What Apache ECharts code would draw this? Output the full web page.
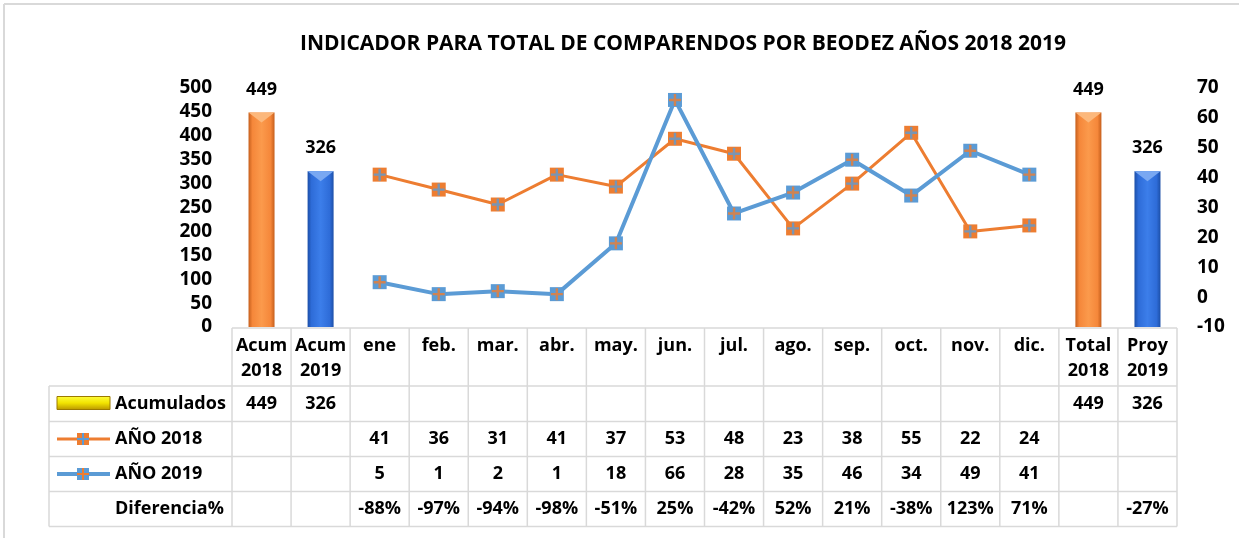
<!DOCTYPE html>
<html><head><meta charset="utf-8">
<script src="https://cdn.jsdelivr.net/npm/echarts@6/dist/echarts.min.js"></script>
<style>html,body{margin:0;padding:0;background:#fff}#c{width:1239px;height:538px}</style>
</head><body><div id="c"></div>
<script>
const titleText = 'INDICADOR PARA TOTAL DE COMPARENDOS POR BEODEZ AÑOS 2018 2019';
const categories = ['Acum\n2018','Acum\n2019','ene','feb.','mar.','abr.','may.','jun.','jul.','ago.','sep.','oct.','nov.','dic.','Total\n2018','Proy\n2019'];
const acumulados = [449,326,null,null,null,null,null,null,null,null,null,null,null,null,449,326];
const ano2018 = [null,null,41,36,31,41,37,53,48,23,38,55,22,24,null,null];
const ano2019 = [null,null,5,1,2,1,18,66,28,35,46,34,49,41,null,null];
const diferencia = ['','','-88%','-97%','-94%','-98%','-51%','25%','-42%','52%','21%','-38%','123%','71%','','-27%'];
const rowLabels = ['Acumulados','AÑO 2018','AÑO 2019','Diferencia%'];
const leftAxis = {min:0, max:500, interval:50};
const rightAxis = {min:-10, max:70, interval:10};

const FONT = 'Open Sans';
const FS = 18;
const ORANGE = '#ED7D31', BLUE = '#5B9BD5';
const barYear = [0,1,null,null,null,null,null,null,null,null,null,null,null,null,0,1];
const barGrad = [
  new echarts.graphic.LinearGradient(0,0,1,0,[{offset:0,color:'#C65F1C'},{offset:0.15,color:'#F5873A'},{offset:0.5,color:'#FB9A4C'},{offset:0.85,color:'#F5873A'},{offset:1,color:'#C65F1C'}]),
  new echarts.graphic.LinearGradient(0,0,1,0,[{offset:0,color:'#1C4FA8'},{offset:0.15,color:'#2E6CD8'},{offset:0.5,color:'#3C7EEA'},{offset:0.85,color:'#2E6CD8'},{offset:1,color:'#1C4FA8'}])
];
const barTop = ['#FCB87C','#79A8F2'];
const PLUS = 'path://M4,0H6V4H10V6H6V10H4V6H0V4H4Z';

const chart = echarts.init(document.getElementById('c'), null, {renderer:'canvas'});
const txt = {fontFamily:FONT, fontWeight:'bold', color:'#000'};

function barData(){
  return acumulados.map((v,i)=> v==null ? null : {value:v, itemStyle:{color:barGrad[barYear[i]]}});
}
function barTopData(){
  return acumulados.map((v,i)=> v==null ? null : {value:v, itemStyle:{color:barTop[barYear[i]]}});
}

chart.setOption({
  animation:false,
  title:{text:titleText, left:678, top:29, textAlign:'center',
    textStyle:{fontFamily:FONT, fontWeight:'bold', fontSize:21, color:'#000'}},
  grid:{left:232, right:62, top:88, bottom:211},
  xAxis:{type:'category', data:categories, axisLine:{show:false}, axisTick:{show:false},
    axisLabel:Object.assign({fontSize:FS, lineHeight:25, margin:6, interval:0}, txt)},
  yAxis:[
    Object.assign({type:'value', position:'left', splitLine:{show:false}, axisLine:{show:false}, axisTick:{show:false},
      axisLabel:Object.assign({fontSize:19, margin:20}, txt)}, leftAxis),
    Object.assign({type:'value', position:'right', splitLine:{show:false}, axisLine:{show:false}, axisTick:{show:false},
      axisLabel:Object.assign({fontSize:19, margin:20, align:'left'}, txt)}, rightAxis)
  ],
  series:[
    {name:'Acumulados', type:'bar', yAxisIndex:0, barWidth:26, barGap:'-100%', data:barData(),
      label:Object.assign({show:true, position:'top', distance:14, fontSize:FS}, txt)},
    {name:'AcumTop', type:'pictorialBar', yAxisIndex:0, symbol:'path://M0,0L26,0L13,9Z', symbolSize:[26,10],
      symbolPosition:'end', symbolOffset:[0,0], data:barTopData(), z:3},
    {name:'AÑO 2018', type:'line', yAxisIndex:1, data:ano2018, lineStyle:{color:ORANGE, width:3},
      itemStyle:{color:ORANGE}, symbol:'rect', symbolSize:14, showAllSymbol:true, z:4},
    {name:'AÑO 2018 +', type:'scatter', yAxisIndex:1, data:ano2018, symbol:PLUS, symbolSize:12,
      itemStyle:{color:BLUE}, z:5},
    {name:'AÑO 2019', type:'line', yAxisIndex:1, data:ano2019, lineStyle:{color:BLUE, width:4},
      itemStyle:{color:BLUE}, symbol:'rect', symbolSize:14, showAllSymbol:true, z:6},
    {name:'AÑO 2019 +', type:'scatter', yAxisIndex:1, data:ano2019, symbol:PLUS, symbolSize:12,
      itemStyle:{color:ORANGE}, z:7}
  ]
});

// data table drawn from the arrays, positioned by the category axis
const c0 = chart.convertToPixel({xAxisIndex:0}, 0);
const c1 = chart.convertToPixel({xAxisIndex:0}, 1);
const colW = c1 - c0;
const x0 = c0 - colW/2;
const xEnd = x0 + colW*categories.length;
const axisY = chart.convertToPixel({yAxisIndex:0}, 0);
const headTop = axisY + 1;
const rowTop = [386, 421.5, 456.5, 491.5];
const rowH = 35;
const tableBottom = rowTop[3] + rowH;
const tableLeft = 49;
const LINE = '#D9D9D9';
const els = [];
function hline(x1,x2,y){els.push({type:'line', shape:{x1,y1:y,x2,y2:y}, style:{stroke:LINE, lineWidth:1.5}, silent:true});}
function vline(x,y1,y2){els.push({type:'line', shape:{x1:x,y1,x2:x,y2}, style:{stroke:LINE, lineWidth:1.5}, silent:true});}
hline(x0, xEnd, headTop);
rowTop.forEach(y=>hline(tableLeft, xEnd, y));
hline(tableLeft, xEnd, tableBottom);
vline(tableLeft, rowTop[0], tableBottom);
for(let k=0;k<=categories.length;k++) vline(x0+k*colW, headTop, tableBottom);

const rows = [
  acumulados.map(v=> v==null?'':String(v)),
  ano2018.map(v=> v==null?'':String(v)),
  ano2019.map(v=> v==null?'':String(v)),
  diferencia
];
rows.forEach((r,ri)=>{
  const cy = rowTop[ri] + rowH/2;
  r.forEach((t,ci)=>{
    if(!t) return;
    els.push({type:'text', x:c0+ci*colW, y:cy, silent:true,
      style:{text:t, fontFamily:FONT, fontWeight:'bold', fontSize:FS, fill:'#000', align:'center', verticalAlign:'middle'}});
  });
  els.push({type:'text', x:115, y:cy, silent:true,
    style:{text:rowLabels[ri], fontFamily:FONT, fontWeight:'bold', fontSize:FS, fill:'#000', align:'left', verticalAlign:'middle'}});
});
// legend keys
const k0 = rowTop[0] + rowH/2;
els.push({type:'rect', shape:{x:57, y:k0-7, width:53, height:13}, silent:true,
  style:{fill:new echarts.graphic.LinearGradient(0,0,0,1,[{offset:0,color:'#FFFF3C'},{offset:0.5,color:'#F2E300'},{offset:1,color:'#B89400'}]), stroke:'#9C7A00', lineWidth:1}});
[[ORANGE,BLUE,3],[BLUE,ORANGE,4]].forEach((p,i)=>{
  const y = rowTop[i+1] + rowH/2;
  els.push({type:'line', shape:{x1:57,y1:y,x2:110,y2:y}, style:{stroke:p[0], lineWidth:p[2]}, silent:true});
  els.push({type:'rect', shape:{x:77, y:y-6, width:12, height:12}, style:{fill:p[0]}, silent:true});
  els.push({type:'rect', shape:{x:82, y:y-6, width:2, height:12}, style:{fill:p[1]}, silent:true});
  els.push({type:'rect', shape:{x:77, y:y-1, width:12, height:2}, style:{fill:p[1]}, silent:true});
});
// outer chart border (left and top visible)
els.push({type:'line', shape:{x1:4,y1:4,x2:1239,y2:4}, style:{stroke:'#D9D9D9', lineWidth:2}, silent:true});
els.push({type:'line', shape:{x1:4,y1:4,x2:4,y2:538}, style:{stroke:'#D9D9D9', lineWidth:2}, silent:true});
chart.setOption({graphic:{elements:els}});
</script>
</body></html>
